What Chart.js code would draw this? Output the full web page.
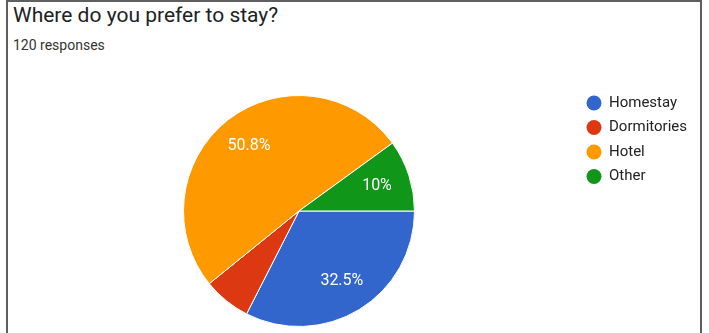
<!DOCTYPE html>
<html>
<head>
<meta charset="utf-8">
<script src="https://cdn.jsdelivr.net/npm/chart.js@4"></script>
<style>
  html, body { margin: 0; padding: 0; background: #fff; }
  body { width: 709px; height: 333px; position: relative; overflow: hidden; font-family: Roboto, Arial, sans-serif; }
  #frame { position: absolute; left: 6px; top: 0; width: 696px; height: 340px; border: 2px solid #5f5f5f; box-sizing: border-box; }
  #title { position: absolute; left: 13px; top: 3px; font-size: 21px; color: #202124; white-space: nowrap; }
  #sub { position: absolute; left: 13px; top: 37px; font-size: 14px; color: #333; white-space: nowrap; }
  #wrap { position: absolute; left: 0; top: 0; width: 709px; height: 333px; }
</style>
</head>
<body>
<div id="frame"></div>
<div id="title">Where do you prefer to stay?</div>
<div id="sub">120 responses</div>
<div id="wrap"><canvas id="pieChart"></canvas></div>
<script>
const labels = ["Homestay", "Dormitories", "Hotel", "Other"];
const counts = [39, 8, 61, 12];
const colors = ["#3366cc", "#dc3912", "#ff9900", "#109618"];

const total = counts.reduce((a, b) => a + b, 0);

function pctText(v) {
  const p = (v / total * 100).toFixed(1);
  return (p.endsWith(".0") ? p.slice(0, -2) : p) + "%";
}

// percentage text inside each slice (small slices skipped, like Google Forms)
const sliceLabels = {
  id: "sliceLabels",
  afterDatasetsDraw(chart) {
    const ctx = chart.ctx;
    const meta = chart.getDatasetMeta(0);
    ctx.save();
    ctx.font = "16px Roboto, Arial, sans-serif";
    ctx.fillStyle = "#fff";
    ctx.textAlign = "center";
    ctx.textBaseline = "middle";
    meta.data.forEach((arc, i) => {
      const v = counts[i];
      if (v / total < 0.08) return;
      const { x, y, startAngle, endAngle, outerRadius } = arc.getProps(["x", "y", "startAngle", "endAngle", "outerRadius"], true);
      const mid = (startAngle + endAngle) / 2;
      const r = outerRadius * 0.71;
      ctx.fillText(pctText(v), x + Math.cos(mid) * r, y + Math.sin(mid) * r);
    });
    ctx.restore();
  },
};

// legend on the right with round markers
const sideLegend = {
  id: "sideLegend",
  afterDraw(chart) {
    const ctx = chart.ctx;
    ctx.save();
    ctx.font = "15px Roboto, Arial, sans-serif";
    ctx.textBaseline = "middle";
    labels.forEach((l, i) => {
      const y = 103 + i * 24.5;
      ctx.fillStyle = colors[i];
      ctx.beginPath();
      ctx.arc(594, y, 7.5, 0, Math.PI * 2);
      ctx.fill();
      ctx.fillStyle = "#222";
      ctx.fillText(l, 609, y);
    });
    ctx.restore();
  },
};

new Chart(document.getElementById("pieChart"), {
  type: "pie",
  data: {
    labels,
    datasets: [{
      data: counts,
      backgroundColor: colors,
      borderColor: "#fff",
      borderWidth: 1,
    }],
  },
  options: {
    responsive: true,
    maintainAspectRatio: false,
    animation: false,
    rotation: 90,
    layout: { padding: { left: 182, right: 293, top: 95, bottom: 6 } },
    plugins: {
      legend: { display: false },
      tooltip: { enabled: false },
    },
  },
  plugins: [sliceLabels, sideLegend],
});
</script>
</body>
</html>
